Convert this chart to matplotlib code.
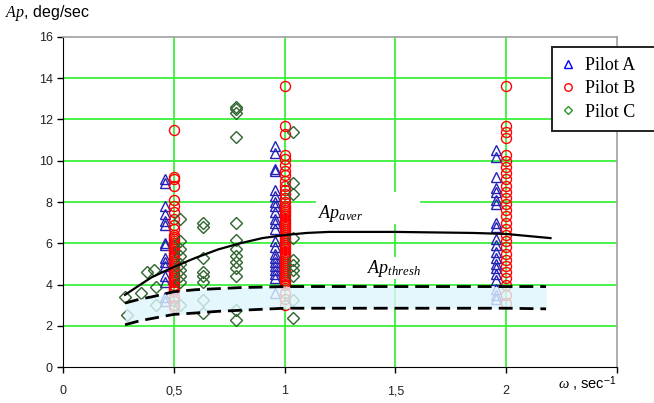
import matplotlib
matplotlib.use("Agg")
import matplotlib.pyplot as plt
from matplotlib.patches import Rectangle

plt.rcParams['mathtext.fontset'] = 'custom'
plt.rcParams['mathtext.it'] = 'Liberation Serif:italic'
plt.rcParams['mathtext.rm'] = 'Liberation Sans'

# --- data ---
a_x = [0.46, 0.955, 1.955]
a_05 = [9.1, 8.9, 7.8, 7.4, 7.1, 6.9, 6.0, 5.9, 5.3, 5.1, 4.9, 4.4, 4.1, 3.4, 3.2]
a_10 = [10.7, 10.4, 9.6, 9.5, 8.6, 8.3, 8.0, 7.8, 7.5, 7.2, 7.0, 6.7, 6.1, 5.8,
        5.5, 5.3, 5.1, 4.9, 4.7, 4.5, 4.3, 3.6]
a_20 = [10.5, 10.2, 9.2, 8.7, 8.5, 8.1, 7.9, 7.0, 6.8, 6.2, 5.9, 5.6, 5.3, 5.0,
        4.8, 4.5, 4.2, 3.8, 3.5, 3.3]

b_x = [0.5, 1.0, 2.0]
b_05 = [11.5, 9.2, 9.1, 8.8, 8.1, 7.8, 7.5, 7.2, 6.9, 6.7, 6.4, 6.3, 6.2, 6.1, 6.0,
        5.9, 5.8, 5.7, 5.6, 5.5, 5.4, 5.3, 5.2, 5.1, 5.0, 4.9, 4.8, 4.7, 4.6, 4.5,
        4.4, 4.3, 4.2, 4.1, 4.0, 3.9, 3.8, 3.7, 3.4, 3.2, 3.0, 2.9]
b_10 = [13.6, 11.7, 11.3, 10.3, 10.1, 9.8, 9.5, 9.3, 9.0, 8.8, 8.6, 8.4, 8.2, 8.0,
        7.8, 7.7, 7.6, 7.5, 7.4, 7.3, 7.2, 7.1, 7.0, 6.9, 6.8, 6.7, 6.6, 6.5, 6.4,
        6.3, 6.2, 6.1, 6.0, 5.9, 5.8, 5.7, 5.6, 5.5, 5.4, 5.3, 5.2, 5.1, 5.0, 4.9,
        4.8, 4.7, 4.6, 4.5, 4.4, 4.3, 4.2, 4.1, 4.0, 3.6, 3.3, 3.0]
b_20 = [13.6, 11.7, 11.4, 11.1, 10.3, 10.0, 9.7, 9.4, 9.1, 8.8, 8.5, 8.2, 7.9, 7.6,
        7.3, 7.0, 6.7, 6.4, 6.1, 5.8, 5.5, 5.2, 4.9, 4.6, 4.3, 4.0, 3.5, 3.1]

c_x = [0.28, 0.29, 0.35, 0.38, 0.41, 0.42, 0.42,
       0.53, 0.53, 0.53, 0.53, 0.53, 0.53, 0.53, 0.53, 0.53,
       0.63, 0.63, 0.63, 0.63, 0.63, 0.63, 0.63, 0.63,
       0.78, 0.78, 0.78, 0.78, 0.78, 0.78, 0.78, 0.78, 0.78, 0.78, 0.78, 0.78, 0.78,
       1.04, 1.04, 1.04, 1.04, 1.04, 1.04, 1.04, 1.04, 1.04, 1.04]
c_y = [3.4, 2.5, 3.6, 4.6, 4.7, 3.9, 3.0,
       7.2, 6.1, 5.7, 5.4, 5.0, 4.7, 4.4, 4.1, 3.0,
       7.0, 6.8, 5.3, 4.6, 4.4, 4.1, 3.25, 2.6,
       12.6, 12.5, 12.3, 11.15, 7.0, 6.15, 5.7, 5.4, 5.1, 4.8, 4.4, 2.75, 2.3,
       11.4, 8.9, 8.4, 6.25, 5.2, 4.95, 4.7, 4.4, 3.25, 2.4]

aver_x = [0.28, 0.35, 0.4, 0.5, 0.6, 0.7, 0.8, 0.9, 1.0, 1.1, 1.2, 1.5, 1.85, 2.0, 2.1, 2.2]
aver_y = [3.5, 4.0, 4.35, 4.85, 5.3, 5.7, 6.0, 6.25, 6.4, 6.5, 6.55, 6.55, 6.5, 6.45, 6.35, 6.25]

thr_x = [0.28, 0.35, 0.4, 0.5, 0.6, 0.7, 0.8, 1.0, 1.2, 1.5, 1.8, 2.0, 2.18]
thr_hi = [3.1, 3.3, 3.4, 3.65, 3.75, 3.8, 3.85, 3.9, 3.9, 3.9, 3.9, 3.9, 3.9]
thr_lo = [2.05, 2.25, 2.35, 2.55, 2.62, 2.7, 2.75, 2.85, 2.85, 2.85, 2.85, 2.85, 2.82]

xticks = [0, 0.5, 1, 1.5, 2, 2.5]
xticklabels = ['0', '0,5', '1', '1,5', '2', '']
yticks = [0, 2, 4, 6, 8, 10, 12, 14, 16]

fig = plt.figure(figsize=(6.54, 4.03), dpi=100)
ax = fig.add_axes([0.0963, 0.0893, 0.8471, 0.8189])

green = '#3cf03c'
for gx in [0.5, 1, 1.5, 2]:
    ax.axvline(gx, color=green, lw=1.3, zorder=0)
for gy in [2, 4, 6, 8, 10, 12, 14]:
    ax.axhline(gy, color=green, lw=1.3, zorder=0)

# white box behind the Ap_aver label (covers the grid there)
ax.add_patch(Rectangle((1.14, 6.95), 0.47, 1.55, facecolor='white',
                       edgecolor='none', zorder=1))

ms = 7.2
ax.plot([a_x[0]] * len(a_05) + [a_x[1]] * len(a_10) + [a_x[2]] * len(a_20),
        a_05 + a_10 + a_20, ls='none', marker='^', ms=ms, mfc='none',
        mec='#2222b8', mew=1.0, label='Pilot A', zorder=2)
ax.plot([b_x[0]] * len(b_05) + [b_x[1]] * len(b_10) + [b_x[2]] * len(b_20),
        b_05 + b_10 + b_20, ls='none', marker='o', ms=ms, mfc='none',
        mec='#ff0000', mew=1.0, label='Pilot B', zorder=2)
ax.plot(c_x, c_y, ls='none', marker='D', ms=6.0, mfc='none',
        mec='#2e642e', mew=1.0, label='Pilot C', zorder=2)

# shaded threshold band (drawn over the markers, as in the original)
ax.fill_between(thr_x, thr_lo, thr_hi, color='#def6fc', alpha=0.8, lw=0, zorder=3)
ax.plot(aver_x, aver_y, color='black', lw=1.6, zorder=4)
ax.plot(thr_x, thr_hi, color='black', lw=2.0, dashes=(5, 2.5), zorder=4)
ax.plot(thr_x, thr_lo, color='black', lw=2.0, dashes=(5, 2.5), zorder=4)

ax.text(1.15, 7.45, r'$Ap_{aver}$', fontsize=13, ha='left', va='center', zorder=5)
ax.text(1.37, 4.8, r'$Ap_{thresh}$', fontsize=13, ha='left', va='center', zorder=5,
        bbox=dict(facecolor='white', edgecolor='none', pad=0.5))

ax.set_xlim(0, 2.5)
ax.set_ylim(0, 16)
ax.set_xticks(xticks)
ax.set_xticklabels(xticklabels)
ax.set_yticks(yticks)
ax.tick_params(direction='out', length=4, width=1, labelsize=9, colors='black')
ax.tick_params(axis='x', pad=9)
for lab in ax.get_xticklabels() + ax.get_yticklabels():
    lab.set_fontfamily('Liberation Sans')
    lab.set_color('#222222')

ax.spines['left'].set_color('black')
ax.spines['bottom'].set_color('black')
ax.spines['top'].set_color('#a0a0a0')
ax.spines['right'].set_color('#a0a0a0')
ax.spines['top'].set_linewidth(1.2)
ax.spines['right'].set_linewidth(1.2)

ax.text(2.365, -0.85, r'$\omega$ , sec$^{-1}$', fontsize=10.5, family='Liberation Sans',
        ha='center', va='center', clip_on=False)
fig.text(5 / 654, 1 - 13 / 403, r'$Ap$, deg/sec', fontsize=11.5,
         family='Liberation Sans', ha='left', va='center')

leg = ax.legend(loc='upper left',
                bbox_to_anchor=(552 / 654, 0, 110 / 654, 1 - 47 / 403),
                bbox_transform=fig.transFigure, mode='expand', fancybox=False,
                framealpha=1, edgecolor='#222222', borderaxespad=0, borderpad=0.55,
                handlelength=0.7, handletextpad=0.6, labelspacing=0.35,
                markerscale=0.75, prop={'family': 'Liberation Serif', 'size': 13})
leg.get_frame().set_linewidth(1.4)
leg.set_zorder(10)
lh = leg.legend_handles
lh[0].set_markeredgecolor('#0000ff')
lh[2].set_markeredgecolor('#2a9a2a')

fig.savefig('out.png', dpi=100)
